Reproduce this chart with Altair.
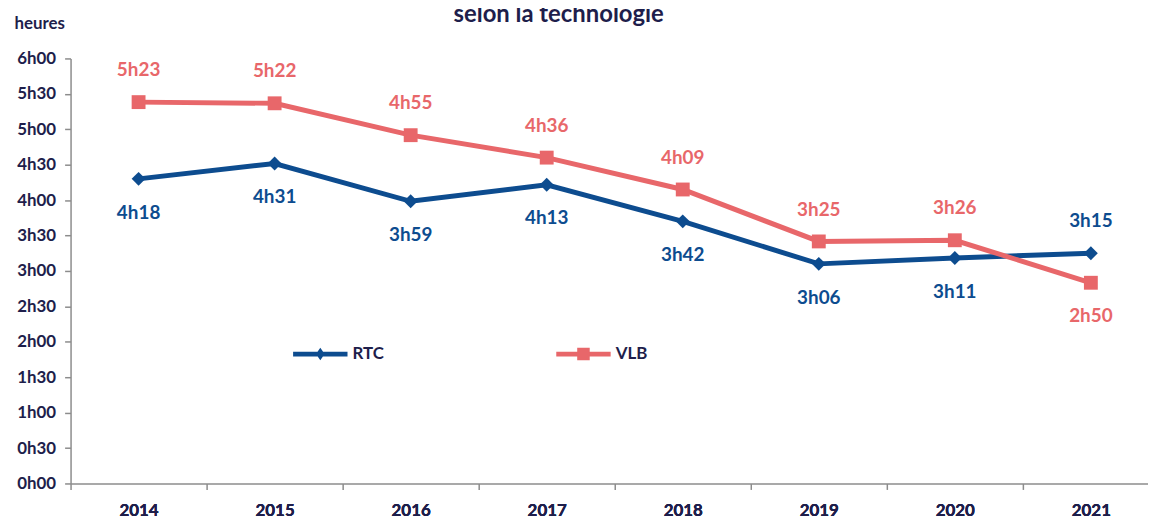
import altair as alt
import pandas as pd

years = [2014, 2015, 2016, 2017, 2018, 2019, 2020, 2021]
rtc_minutes = [258, 271, 239, 253, 222, 186, 191, 195]
vlb_minutes = [323, 322, 295, 276, 249, 205, 206, 170]
series_names = ["RTC", "VLB"]
y_tick_values = list(range(0, 361, 30))
x_tick_values = [2013.5, 2014.5, 2015.5, 2016.5, 2017.5, 2018.5, 2019.5, 2020.5]

BLUE = "#0D4C8F"
RED = "#E8676A"
NAVY = "#1E1E4B"
GREY = "#8C8C8C"
FONT = "Lato"


def fmt(m):
    return f"{m // 60}h{m % 60:02d}"


rows = []
for name, vals in zip(series_names, [rtc_minutes, vlb_minutes]):
    for yv, v in zip(years, vals):
        rows.append({"year": yv, "series": name, "marker": name + "m", "minutes": v, "label": fmt(v)})
df = pd.DataFrame(rows)

x_scale = alt.Scale(domain=[2013.5, 2021.42], nice=False, zero=False)
y_scale = alt.Scale(domain=[0, 360], nice=False)

x_labels = alt.X(
    "year:Q",
    scale=x_scale,
    axis=alt.Axis(
        values=years,
        format="d",
        orient="bottom",
        ticks=False,
        domain=False,
        labelFlush=False,
        labelOverlap=False,
        grid=False,
        title=None,
        labelFont=FONT,
        labelFontSize=17,
        labelFontWeight="bold",
        labelColor=NAVY,
        labelPadding=19,
    ),
)
x_ticks = alt.X(
    "year:Q",
    scale=x_scale,
    axis=alt.Axis(
        values=x_tick_values,
        orient="bottom",
        labels=False,
        grid=False,
        title=None,
        domainColor=GREY,
        domainWidth=1.5,
        tickColor=GREY,
        tickWidth=1.5,
        tickSize=6,
    ),
)
y = alt.Y(
    "minutes:Q",
    scale=y_scale,
    axis=alt.Axis(
        values=y_tick_values,
        labelExpr="floor(datum.value/60) + 'h' + (datum.value % 60 == 0 ? '00' : '30')",
        grid=False,
        domainColor=GREY,
        domainWidth=1.5,
        tickColor=GREY,
        tickWidth=1.5,
        tickSize=6,
        labelFont=FONT,
        labelFontSize=17,
        labelFontWeight="bold",
        labelColor=NAVY,
        labelPadding=9,
        title="heures",
        titleAngle=0,
        titleX=-57,
        titleY=-35,
        titleAlign="left",
        titleBaseline="middle",
        titleFont=FONT,
        titleFontSize=17,
        titleFontWeight="bold",
        titleColor=NAVY,
    ),
)

bar = "M-1,-0.09L1,-0.09L1,0.09L-1,0.09Z"
rtc_path = bar + " M0,-0.23L0.16,0L0,0.23L-0.16,0Z"
vlb_path = bar + " M-0.23,-0.23L0.23,-0.23L0.23,0.23L-0.23,0.23Z"

domain4 = ["RTC", "VLB", "RTCm", "VLBm"]
color_scale = alt.Scale(domain=domain4, range=[BLUE, RED, BLUE, RED])
shape_scale = alt.Scale(domain=domain4, range=[rtc_path, vlb_path, "diamond", "square"])

legend = alt.Legend(
    title=None,
    values=series_names,
    orient="none",
    legendX=224,
    legendY=270,
    direction="horizontal",
    symbolSize=3000,
    symbolOpacity=1,
    symbolStrokeWidth=0,
    labelFont=FONT,
    labelFontSize=17,
    labelFontWeight="bold",
    labelColor=NAVY,
    labelOffset=5,
    columnPadding=173,
)

color_series = alt.Color("series:N", scale=color_scale, legend=legend)
color_marker = alt.Color("marker:N", scale=color_scale, legend=legend)

base = alt.Chart(df)

lines = base.mark_line(strokeWidth=5).encode(x=x_ticks, y=y, color=color_series)

points = base.mark_point(filled=True, opacity=1, size=195).encode(
    x=x_labels,
    y=y,
    color=color_marker,
    shape=alt.Shape("marker:N", scale=shape_scale, legend=legend),
)

above_filter = "(datum.series == 'VLB' && datum.year != 2021) || (datum.series == 'RTC' && datum.year == 2021)"

text_above = base.transform_filter(above_filter).mark_text(
    dy=-32, font=FONT, fontSize=19, fontWeight="bold"
).encode(x=x_labels, y=y, text="label:N", color=color_series)

text_below = base.transform_filter("!(" + above_filter + ")").mark_text(
    dy=34, font=FONT, fontSize=19, fontWeight="bold"
).encode(x=x_labels, y=y, text="label:N", color=color_series)

chart = (
    alt.layer(lines, points, text_above, text_below)
    .resolve_axis(x="independent")
    .properties(
        width=1085,
        height=428,
        autosize=alt.AutoSizeParams(type="none"),
        padding={"left": 63, "top": 49, "right": 0, "bottom": 35},
        title=alt.TitleParams(
            "selon la technologie",
            font=FONT,
            fontSize=24,
            fontWeight="bold",
            color=NAVY,
            anchor="middle",
            dx=-51,
            offset=-12,
        ),
    )
    .configure_view(stroke=None)
)

chart.save("out.html", embed_options={"renderer": "svg", "actions": False})
